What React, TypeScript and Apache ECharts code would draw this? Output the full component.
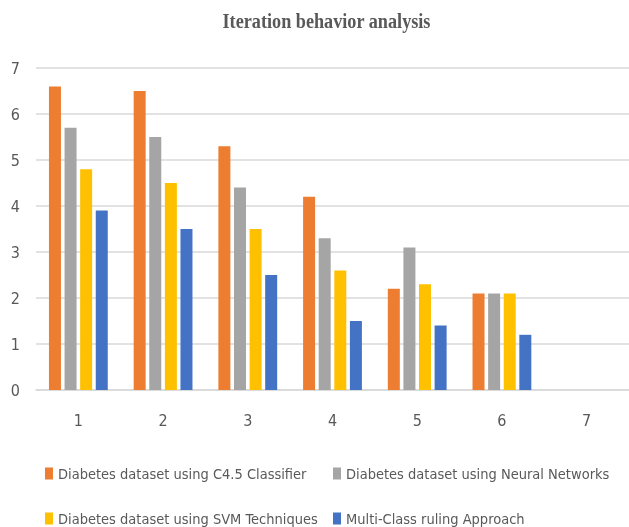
import React, { useEffect, useRef } from "react";
import * as echarts from "echarts";

const categories = ["1", "2", "3", "4", "5", "6", "7"];
const seriesNames = [
  "Diabetes dataset using C4.5 Classifier",
  "Diabetes dataset using Neural Networks",
  "Diabetes dataset using SVM Techniques",
  "Multi-Class ruling Approach",
];
const c45Values = [6.6, 6.5, 5.3, 4.2, 2.2, 2.1, null];
const nnValues = [5.7, 5.5, 4.4, 3.3, 3.1, 2.1, null];
const svmValues = [4.8, 4.5, 3.5, 2.6, 2.3, 2.1, null];
const mcrValues = [3.9, 3.5, 2.5, 1.5, 1.4, 1.2, null];
const colors = ["#ED7D31", "#A5A5A5", "#FFC000", "#4472C4"];
const titleText = "Iteration behavior analysis";

const NARROW = "'Liberation Sans Narrow', 'DejaVu Sans Condensed', sans-serif";

export default function App() {
  const ref = useRef<HTMLDivElement>(null);
  useEffect(() => {
    if (!ref.current) return;
    const chart = echarts.init(ref.current, null, { renderer: "svg" });
    const allValues = [c45Values, nnValues, svmValues, mcrValues];
    const legendPos = [
      { left: 45, top: 466 },
      { left: 333, top: 466 },
      { left: 45, top: 511 },
      { left: 333, top: 511 },
    ];
    chart.setOption({
      animation: false,
      color: colors,
      graphic: [
        {
          type: "text",
          x: 326.5,
          y: 21,
          scaleX: 0.867,
          style: {
            text: titleText,
            fontFamily: "Liberation Serif",
            fontWeight: "bold",
            fontSize: 21,
            fill: "#595959",
            textAlign: "center",
            textVerticalAlign: "middle",
          },
        },
      ],
      grid: { left: 36, right: -1, top: 68, bottom: 137 },
      xAxis: {
        type: "category",
        data: categories,
        axisLine: { show: true, lineStyle: { color: "#D9D9D9", width: 1.5 } },
        axisTick: { show: false },
        axisLabel: {
          color: "#595959",
          fontFamily: NARROW,
          fontSize: 16,
          margin: 22,
        },
      },
      yAxis: {
        type: "value",
        min: 0,
        max: 7,
        interval: 1,
        axisLine: { show: false },
        axisTick: { show: false },
        splitLine: { lineStyle: { color: "#D9D9D9", width: 1.5 } },
        axisLabel: {
          color: "#595959",
          fontFamily: NARROW,
          fontSize: 16,
          margin: 16,
        },
      },
      legend: seriesNames.map((name, i) => ({
        data: [name],
        left: legendPos[i].left,
        top: legendPos[i].top,
        padding: 0,
        itemWidth: 8,
        itemHeight: 12,
        itemGap: 2,
        icon: "rect",
        textStyle: {
          color: "#595959",
          fontFamily: NARROW,
          fontSize: 14.5,
          padding: [0, 0, 0, 0],
        },
      })),
      series: seriesNames.map((name, i) => ({
        name,
        type: "bar",
        data: allValues[i],
        barWidth: 12,
        barGap: "30%",
        itemStyle: { color: colors[i] },
      })),
    });
    return () => chart.dispose();
  }, []);
  return (
    <div
      ref={ref}
      style={{ position: "fixed", left: 0, top: 0, width: 629, height: 527 }}
    />
  );
}
